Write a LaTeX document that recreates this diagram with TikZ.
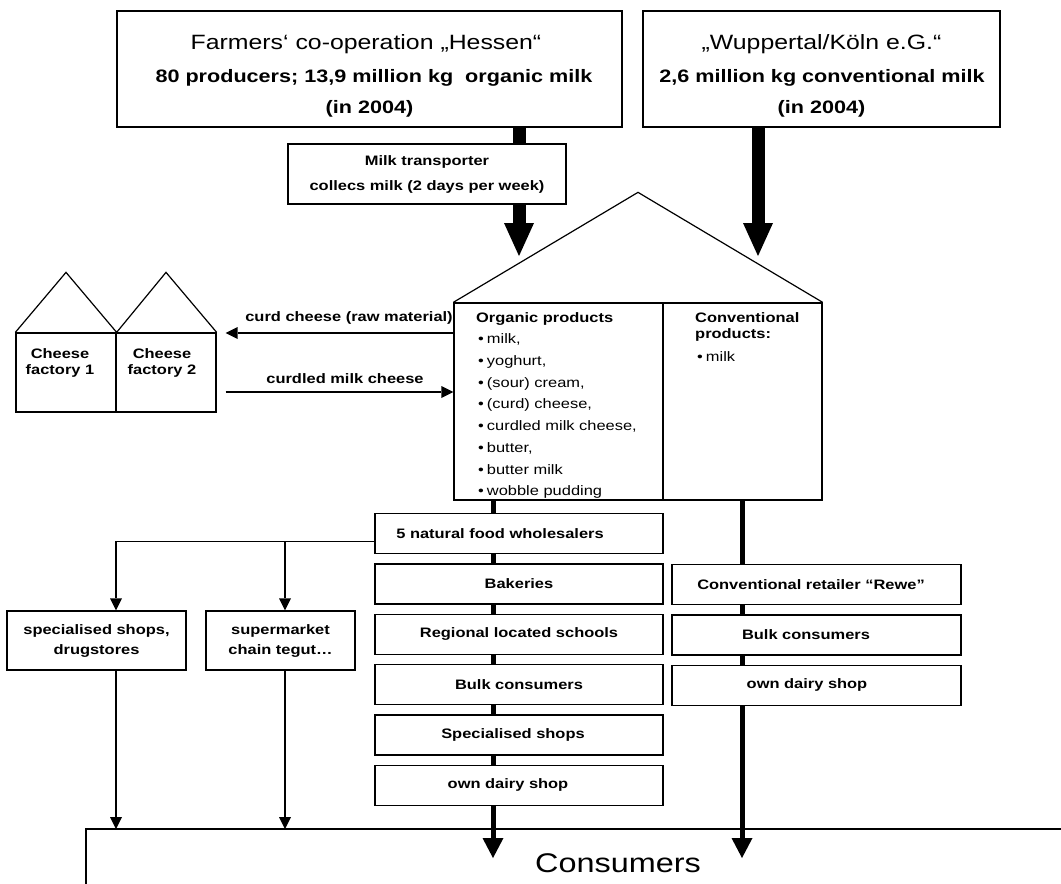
\documentclass[tikz,border=0pt]{standalone}
\usepackage{fontspec}
\setmainfont{Liberation Sans}[FakeStretch=1.2]
\usetikzlibrary{arrows.meta,positioning}

\newcommand\bul{\hspace{2pt}•\hspace{3pt}}

\tikzset{
  box/.style={draw, line width=1.3pt, fill=white, inner sep=0pt},
  lbl/.style={font=\fontsize{13.7}{16}\selectfont\bfseries, inner sep=0pt},
  ttl/.style={font=\fontsize{20.7}{24}\selectfont, inner sep=0pt},
  sub/.style={font=\fontsize{18}{22}\selectfont\bfseries, inner sep=0pt},
  item/.style={font=\fontsize{13.7}{21.7}\selectfont, inner sep=0pt, align=left},
  colbox/.style={box, lbl, minimum width=288pt, minimum height=40pt},
  thin/.style={line width=1.2pt},
  thinarr/.style={thin, -{Triangle[width=12pt,length=12pt,line width=0pt]}},
  fatline/.style={line width=5pt},
  fatarr/.style={fatline, -{Triangle[width=21pt,length=20pt,line width=0pt]}},
  hugeline/.style={line width=13pt},
  hugearr/.style={hugeline, -{Triangle[width=30pt,length=33pt,line width=0pt]}}
}

\begin{document}
\begin{tikzpicture}[x=1pt,y=-1pt]
  \fill[white, use as bounding box] (0,0) rectangle (1061,884);

  % x positions of the flows, and some heights
  \coordinate (orgtop) at (519,0);
  \coordinate (convtop) at (758,0);
  \coordinate (orgx) at (493,0);
  \coordinate (convx) at (742,0);
  \coordinate (shopx) at (116,0);
  \coordinate (tegutx) at (285,0);
  \coordinate (rooftip) at (0,256);
  \coordinate (curdy) at (0,333);
  \coordinate (curdledy) at (0,392);
  \coordinate (constop) at (86,829);
  \coordinate (consdrop) at (0,858);

  % producers
  \node[box, minimum width=505pt, minimum height=116pt] (farm) at (369.5,69) {};
  \node[ttl, anchor=base] (farm1) at (366,49) {Farmers‘ co-operation „Hessen“};
  \node[sub, anchor=base] (farm2) at (374,82) {80 producers; 13,9 million kg\ \ organic milk};
  \node[sub, anchor=base] (farm3) at (369.5,113) {(in 2004)};

  \node[box, minimum width=357pt, minimum height=116pt] (wupp) at (821.5,69) {};
  \node[ttl, anchor=base] (wupp1) at (821.5,49) {„Wuppertal/Köln e.G.“};
  \node[sub, anchor=base] (wupp2) at (822,82) {2,6 million kg conventional milk};
  \node[sub, anchor=base] (wupp3) at (821.5,113) {(in 2004)};

  \node[box, lbl, align=center, font=\fontsize{13.7}{25}\selectfont\bfseries,
        minimum width=278pt, minimum height=60pt] (trans) at (427,174)
        {Milk transporter\\collecs milk (2 days per week)};

  % dairy
  \node[box, minimum width=368pt, minimum height=197pt] (dairy) at (638,401.5) {};
  \draw[thin] (dairy.north west) -- ([yshift=110pt]dairy.north) -- (dairy.north east);
  \draw[thin] (dairy.north -| 663,0) -- (dairy.south -| 663,0);
  \node[item, anchor=north west] (orgtxt) at (476,312)
    {\textbf{Organic products}\\
     \bul milk,\\ \bul yoghurt,\\ \bul (sour) cream,\\ \bul (curd) cheese,\\
     \bul curdled milk cheese,\\ \bul butter,\\ \bul butter milk\\ \bul wobble pudding};
  \node[item, anchor=north west, font=\fontsize{13.7}{16}\selectfont] (convtxt) at (695,312)
    {\textbf{Conventional}\\ \textbf{products:}\\[7pt] \bul milk};

  \draw[hugeline] (farm.south -| orgtop) -- (trans.north -| orgtop);
  \draw[hugearr] (trans.south -| orgtop) -- (rooftip -| orgtop);
  \draw[hugearr] (wupp.south -| convtop) -- (rooftip -| convtop);

  % cheese factories
  \node[box, minimum width=100pt, minimum height=79pt] (cf1) at (66,372.5) {};
  \node[box, minimum width=100pt, minimum height=79pt] (cf2) at (166,372.5) {};
  \draw[thin] (cf1.north west) -- ([yshift=60pt]cf1.north) -- (cf1.north east)
    -- ([yshift=60pt]cf2.north) -- (cf2.north east);
  \node[lbl, align=center] (cf1t) at (60,363) {Cheese\\factory 1};
  \node[lbl, align=center] (cf2t) at (162,363) {Cheese\\factory 2};

  \draw[thinarr, shorten >=9pt] (dairy.west |- curdy) -- (cf2.east |- curdy)
    node[lbl, at start, anchor=base east, yshift=12pt] (curdlbl) {curd cheese (raw material)};
  \draw[thinarr, shorten <=9pt] (cf2.east |- curdledy) -- (dairy.west |- curdledy)
    node[lbl, midway, anchor=base, yshift=9pt, xshift=10pt] (curdledlbl) {curdled milk cheese};

  % organic channels
  \node[colbox, anchor=north] (w1) at (519,513) {5 natural food wholesalers\kern38pt};
  \node[colbox, below=9pt of w1] (w2) {Bakeries};
  \node[colbox, below=9pt of w2] (w3) {Regional located schools};
  \node[colbox, below=9pt of w3] (w4) {Bulk consumers};
  \node[colbox, below=9pt of w4] (w5) {Specialised shops\kern12pt};
  \node[colbox, below=9pt of w5] (w6) {own dairy shop\kern22pt};

  % conventional channels
  \node[colbox, anchor=north, minimum width=289pt] (r1) at (816.5,564) {Conventional retailer “Rewe”\kern11pt};
  \node[colbox, minimum width=289pt, below=9pt of r1] (r2) {Bulk consumers\kern21pt};
  \node[colbox, minimum width=289pt, below=9pt of r2] (r3) {own dairy shop\kern19pt};

  \foreach \a/\b in {dairy/w1,w1/w2,w2/w3,w3/w4,w4/w5,w5/w6}
    \draw[fatline] (\a.south -| orgx) -- (\b.north -| orgx);
  \draw[fatarr] (w6.south -| orgx) -- (consdrop -| orgx);
  \foreach \a/\b in {dairy/r1,r1/r2,r2/r3}
    \draw[fatline] (\a.south -| convx) -- (\b.north -| convx);
  \draw[fatarr] (r3.south -| convx) -- (consdrop -| convx);

  % via wholesalers
  \node[box, lbl, align=center, font=\fontsize{13.7}{20}\selectfont\bfseries,
        minimum width=179pt, minimum height=59pt] (shop) at (96.5,640.5) {specialised shops,\\drugstores};
  \node[box, lbl, align=center, font=\fontsize{13.7}{20}\selectfont\bfseries,
        minimum width=149pt, minimum height=59pt] (tegut) at (280.5,640.5) {supermarket\\chain tegut…};
  \coordinate (fork) at ([yshift=-8pt]w1.west);
  \draw[thinarr] (fork) -| (shop.north -| shopx);
  \draw[thinarr] (fork -| tegutx) -- (tegut.north -| tegutx);
  \draw[thinarr] (shop.south -| shopx) -- (constop -| shopx);
  \draw[thinarr] (tegut.south -| tegutx) -- (constop -| tegutx);

  % consumers
  \draw[thin] (constop |- 0,884) -- (constop) -- (constop -| 1061,0);
  \node[font=\fontsize{27}{30}\selectfont, inner sep=0pt, anchor=base] (cons) at (618,872) {Consumers};
\end{tikzpicture}
\end{document}
